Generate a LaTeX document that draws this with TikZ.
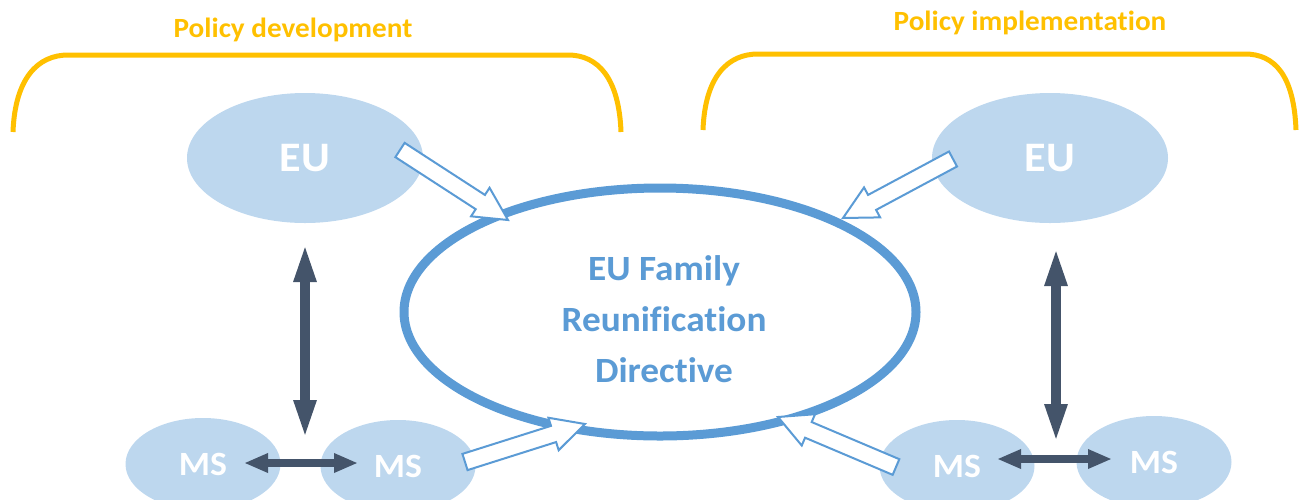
\documentclass[tikz,border=0pt]{standalone}
\usepackage{fontspec}
\setmainfont{Carlito}[FakeStretch=1.05,Ligatures=CommonOff]
\usetikzlibrary{shapes.geometric,arrows.meta,calc}
\definecolor{goldline}{HTML}{FFC000}
\definecolor{paleblue}{HTML}{BDD7EE}
\definecolor{ringblue}{HTML}{5B9BD5}
\definecolor{slate}{HTML}{44546A}
% hollow block arrow from tail #1 to tip #2
\newcommand\blockarrow[2]{%
  \draw[hollow]
    ($(#1)!8.5pt!90:(#2)$) --
    ($($(#2)!33pt!(#1)$)!8.5pt!-90:(#1)$) --
    ($($(#2)!33pt!(#1)$)!17pt!-90:(#1)$) --
    (#2) --
    ($($(#2)!33pt!(#1)$)!17pt!90:(#1)$) --
    ($($(#2)!33pt!(#1)$)!8.5pt!90:(#1)$) --
    ($(#1)!8.5pt!-90:(#2)$) -- cycle;}
\begin{document}
\begin{tikzpicture}[x=1pt,y=-1pt,
  bracket/.style={draw=goldline,line width=5pt},
  title/.style={text=goldline,font=\bfseries\fontsize{27.8}{33}\selectfont},
  actor/.style={ellipse,fill=paleblue,inner sep=0pt,text=white},
  bigactor/.style={actor,minimum width=236pt,minimum height=130pt,font=\bfseries\fontsize{42}{50}\selectfont},
  smallactor/.style={actor,minimum width=155pt,minimum height=92pt,font=\bfseries\fontsize{34}{40}\selectfont},
  hollow/.style={draw=ringblue,fill=white,line width=2pt,line join=miter},
  dualarrow/.style={draw=slate,line width=10pt,{Triangle[length=40pt,width=20pt]}-{Triangle[length=40pt,width=20pt]}},
  sidearrow/.style={draw=slate,line width=8pt,{Triangle[length=24pt,width=18pt]}-{Triangle[length=24pt,width=18pt]}}]
\useasboundingbox (0,0) rectangle (1301,499);

% brackets and their titles
\draw[bracket] (13,132) .. controls (15,78) and (38,55) .. (68,55) -- (568,55)
  .. controls (598,55) and (619,78) .. (621,132);
\draw[bracket] (703,130) .. controls (705,76) and (728,54) .. (758,54) -- (1245,54)
  .. controls (1275,54) and (1294,76) .. (1296,130);
\node[title] (tdev) at (293,30) {Policy development};
\node[title] (timp) at (1030,23) {Policy implementation};

% actors
\node[bigactor] (euL) at (305,158) {EU};
\node[bigactor] (euR) at (1050,158) {EU};
\node[smallactor] (msA) at (203,464) {MS};
\node[smallactor] (msB) at (398,466) {MS};
\node[smallactor] (msC) at (957,466) {MS};
\node[smallactor] (msD) at (1154,462) {MS};

% the directive
\node[ellipse,draw=ringblue,line width=9pt,fill=white,minimum width=512pt,minimum height=248pt,
  inner sep=0pt] (dir) at (660,312) {};
\node[text=ringblue,font=\bfseries\fontsize{35.5}{51}\selectfont,align=center] (dirtext) at (664,319)
  {EU Family\\Reunification\\Directive};

% hollow arrows into the directive
\coordinate (a1s) at (400,150); \coordinate (a1e) at (508,220);
\coordinate (a2s) at (465,462); \coordinate (a2e) at (585,424);
\coordinate (a3s) at (896,467); \coordinate (a3e) at (778,417);
\coordinate (a4s) at (953,159); \coordinate (a4e) at (843,218);
\blockarrow{a1s}{a1e}
\blockarrow{a2s}{a2e}
\blockarrow{a3s}{a3e}
\blockarrow{a4s}{a4e}

% exchanges between levels
\coordinate (v1t) at (305,242); \coordinate (v1b) at (305,440);
\coordinate (v2t) at (1056,246); \coordinate (v2b) at (1056,444);
\coordinate (h1l) at (244,463); \coordinate (h1r) at (358,463);
\coordinate (h2l) at (997,459); \coordinate (h2r) at (1112,459);
\draw[dualarrow] (v1t) -- (v1b);
\draw[dualarrow] (v2t) -- (v2b);
\draw[sidearrow] (h1l) -- (h1r);
\draw[sidearrow] (h2l) -- (h2r);
\end{tikzpicture}
\end{document}
